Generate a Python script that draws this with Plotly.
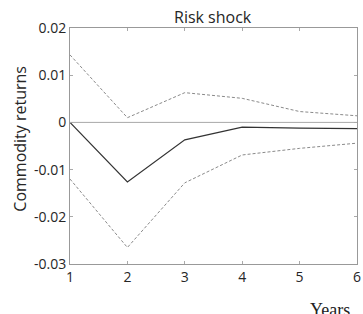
import plotly.graph_objects as go

years = [1, 2, 3, 4, 5, 6]
median = [0.0, -0.0126, -0.0037, -0.0010, -0.0012, -0.0013]
upper = [0.0143, 0.0010, 0.0063, 0.0051, 0.0023, 0.0014]
lower = [-0.0120, -0.0265, -0.0128, -0.0069, -0.0055, -0.0044]
yticks = [0.02, 0.01, 0, -0.01, -0.02, -0.03]
yticklabels = ["0.02", "0.01", "0", "-0.01", "-0.02", "-0.03"]

W, H = 363, 314
L, R, T, B = 70, 2, 28, 50
pw, ph = W - L - R, H - T - B


def px(fx):
    return (fx - L) / pw


def py(fy):
    return (H - B - fy) / ph


fig = go.Figure()
fig.add_trace(go.Scatter(x=years, y=[0]*len(years), mode="lines",
                         line=dict(color="#a8a8a8", width=1), hoverinfo="skip"))
fig.add_trace(go.Scatter(x=years, y=upper, mode="lines",
                         line=dict(color="#8a8a8a", width=1, dash="3px,2px")))
fig.add_trace(go.Scatter(x=years, y=lower, mode="lines",
                         line=dict(color="#8a8a8a", width=1, dash="3px,2px")))
fig.add_trace(go.Scatter(x=years, y=median, mode="lines",
                         line=dict(color="#333333", width=1.2)))

txt = "#262626"
axis_font = dict(family="Open Sans", size=14, color=txt)
fig.update_layout(
    width=W, height=H,
    margin=dict(l=L, r=R, t=T, b=B),
    paper_bgcolor="white", plot_bgcolor="white",
    showlegend=False,
    xaxis=dict(range=[1, 6], tickvals=years, ticks="inside", ticklen=3,
               tickcolor="#aaaaaa", showgrid=False, zeroline=False,
               showline=True, linecolor="#999999", linewidth=1, mirror="ticks",
               tickfont=axis_font, ticklabeloverflow="allow"),
    yaxis=dict(range=[-0.03, 0.02], tickvals=yticks, ticktext=yticklabels,
               ticks="inside", ticklen=3, tickcolor="#aaaaaa", showgrid=False,
               zeroline=False, showline=True, linecolor="#999999", linewidth=1,
               mirror="ticks", tickfont=axis_font),
    annotations=[
        dict(text="Risk shock", xref="paper", yref="paper", x=px(215), y=py(17),
             xanchor="center", yanchor="middle", showarrow=False,
             font=dict(family="Open Sans", size=16, color=txt)),
        dict(text="Commodity returns", xref="paper", yref="paper", x=px(19), y=py(139),
             xanchor="center", yanchor="middle", showarrow=False, textangle=-90,
             font=dict(family="Open Sans", size=16, color=txt)),
        dict(text="Years", xref="paper", yref="paper", x=px(334), y=py(310),
             xanchor="center", yanchor="middle", showarrow=False,
             font=dict(family="Liberation Serif", size=18, color="#222222")),
    ],
)
fig.write_html("out.html", config={"displayModeBar": False},
               post_script="document.body.style.margin='0';document.body.style.overflow='hidden';")
